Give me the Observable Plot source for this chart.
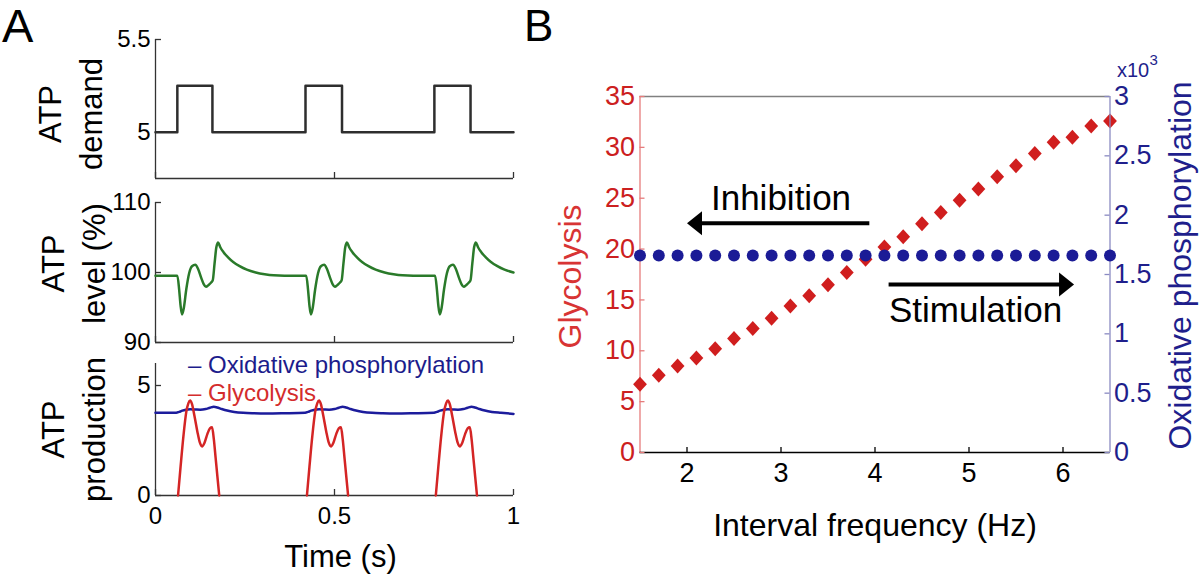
<!DOCTYPE html>
<html><head><meta charset="utf-8">
<script src="https://cdn.jsdelivr.net/npm/d3@7"></script>
<script src="https://cdn.jsdelivr.net/npm/@observablehq/plot@0.6"></script>
<style>
html,body{margin:0;padding:0;background:#fff;}
#root{position:relative;width:1200px;height:577px;overflow:hidden;background:#fff;font-family:"Liberation Sans",Arial,Helvetica,sans-serif;}
.letter{position:absolute;line-height:1;color:#000;font-family:"Liberation Sans",Arial,Helvetica,sans-serif;}
</style></head>
<body><div id="root"></div>
<script>
// ---------------- Panel A data ----------------
const timeTicks = [0, 0.5, 1];
const demandTicks = [5, 5.5];
const levelTicks = [90, 100, 110];
const productionTicks = [0, 5];

const demandTime  = [0, 0.061, 0.159, 0.419, 0.521, 0.779, 0.880, 1];
const demandValue = [5, 5.25, 5, 5.25, 5, 5.25, 5, 5];

const levelTime = [
  0, 0.061, 0.066, 0.070, 0.074, 0.079, 0.086, 0.094, 0.102, 0.111, 0.119, 0.128, 0.135, 0.141, 0.148, 0.156, 0.160, 0.165, 0.170, 0.175, 0.181, 0.190, 0.202, 0.217, 0.235, 0.255, 0.280, 0.305, 0.330, 0.360,
  0.421, 0.426, 0.430, 0.434, 0.439, 0.446, 0.454, 0.462, 0.471, 0.479, 0.488, 0.495, 0.501, 0.508, 0.516, 0.520, 0.525, 0.530, 0.535, 0.541, 0.550, 0.562, 0.577, 0.595, 0.615, 0.640, 0.665, 0.690, 0.720,
  0.781, 0.786, 0.790, 0.794, 0.799, 0.806, 0.814, 0.822, 0.831, 0.839, 0.848, 0.855, 0.861, 0.868, 0.876, 0.880, 0.885, 0.890, 0.895, 0.901, 0.910, 0.922, 0.937, 0.955, 0.975, 1.000];
const levelValue = [
  99.55, 99.55, 97.6, 95.3, 94.0, 94.9, 97.6, 99.9, 100.9, 101.1, 100.5, 99.2, 98.3, 97.95, 98.2, 98.6, 98.9, 101.3, 103.6, 104.3, 103.6, 102.9, 102.2, 101.5, 100.9, 100.4, 100.0, 99.75, 99.6, 99.55,
  99.55, 97.6, 95.3, 94.0, 94.9, 97.6, 99.9, 100.9, 101.1, 100.5, 99.2, 98.3, 97.95, 98.2, 98.6, 98.9, 101.3, 103.6, 104.3, 103.6, 102.9, 102.2, 101.5, 100.9, 100.4, 100.0, 99.75, 99.6, 99.55,
  99.55, 97.6, 95.3, 94.0, 94.9, 97.6, 99.9, 100.9, 101.1, 100.5, 99.2, 98.3, 97.95, 98.2, 98.6, 98.9, 101.3, 103.6, 104.3, 103.6, 102.9, 102.2, 101.5, 100.9, 100.4, 100.0];

const oxTime = [
  0, 0.058, 0.066, 0.075, 0.085, 0.097, 0.110, 0.125, 0.140, 0.152, 0.163, 0.172, 0.185, 0.200, 0.220, 0.245, 0.275, 0.310, 0.360,
  0.418, 0.426, 0.435, 0.445, 0.457, 0.470, 0.485, 0.500, 0.512, 0.523, 0.532, 0.545, 0.560, 0.580, 0.605, 0.635, 0.670, 0.720,
  0.778, 0.786, 0.795, 0.805, 0.817, 0.830, 0.845, 0.860, 0.872, 0.883, 0.892, 0.905, 0.920, 0.940, 0.965, 1.000];
const oxValue = [
  3.76, 3.76, 3.80, 3.86, 3.90, 3.92, 3.91, 3.90, 3.93, 3.99, 4.03, 4.00, 3.93, 3.86, 3.80, 3.76, 3.74, 3.73, 3.74,
  3.76, 3.80, 3.86, 3.90, 3.92, 3.91, 3.90, 3.93, 3.99, 4.03, 4.00, 3.93, 3.86, 3.80, 3.76, 3.74, 3.73, 3.74,
  3.76, 3.80, 3.86, 3.90, 3.92, 3.91, 3.90, 3.93, 3.99, 4.03, 4.00, 3.93, 3.86, 3.80, 3.76, 3.71];

const glyTime = [
  0.063, 0.070, 0.078, 0.086, 0.092, 0.097, 0.102, 0.109, 0.117, 0.124, 0.130, 0.137, 0.145, 0.152, 0.158, 0.163, 0.168, 0.173, 0.178,
  0.300,
  0.423, 0.430, 0.438, 0.446, 0.452, 0.457, 0.462, 0.469, 0.477, 0.484, 0.490, 0.497, 0.505, 0.512, 0.518, 0.523, 0.528, 0.533, 0.538,
  0.650,
  0.783, 0.790, 0.798, 0.806, 0.812, 0.817, 0.822, 0.829, 0.837, 0.844, 0.850, 0.857, 0.865, 0.872, 0.878, 0.883, 0.888, 0.893, 0.898];
const glyValue = [
  0, 1.3, 2.7, 3.8, 4.2, 4.32, 4.15, 3.6, 2.9, 2.4, 2.23, 2.4, 2.8, 3.05, 3.1, 2.55, 1.7, 0.85, 0,
  null,
  0, 1.3, 2.7, 3.8, 4.2, 4.32, 4.15, 3.6, 2.9, 2.4, 2.23, 2.4, 2.8, 3.05, 3.1, 2.55, 1.7, 0.85, 0,
  null,
  0, 1.3, 2.7, 3.8, 4.2, 4.32, 4.15, 3.6, 2.9, 2.4, 2.23, 2.4, 2.8, 3.05, 3.1, 2.55, 1.7, 0.85, 0];

const legendLabels = ["– Oxidative phosphorylation", "– Glycolysis"];

// ---------------- Panel B data ----------------
const freqHz = [1.5, 1.7, 1.9, 2.1, 2.3, 2.5, 2.7, 2.9, 3.1, 3.3, 3.5, 3.7, 3.9, 4.1, 4.3, 4.5, 4.7, 4.9, 5.1, 5.3, 5.5, 5.7, 5.9, 6.1, 6.3, 6.5];
const glycolysisRate = [6.7, 7.6, 8.5, 9.3, 10.2, 11.2, 12.2, 13.2, 14.4, 15.4, 16.5, 17.7, 19.0, 20.2, 21.2, 22.5, 23.6, 24.8, 25.9, 27.1, 28.2, 29.4, 30.5, 31.0, 32.1, 32.6];
const oxphosRate = [1660, 1660, 1660, 1660, 1660, 1660, 1660, 1660, 1660, 1660, 1660, 1660, 1660, 1660, 1660, 1660, 1660, 1660, 1660, 1660, 1660, 1660, 1660, 1660, 1660, 1660];
const freqTicks = [2, 3, 4, 5, 6];
const glyTicks = [0, 5, 10, 15, 20, 25, 30, 35];
const oxTicks = [0, 500, 1000, 1500, 2000, 2500, 3000];

// annotation arrows (data coordinates)
const arrowLabels = ["Inhibition", "Stimulation"];
const arrowLeft  = [2.0, 4.15];
const arrowRight = [3.945, 6.118];
const arrowY     = [22.54, 16.52];
const arrowLabelX = [3.0, 5.07];
const arrowLabelY = [24.9, 13.9];

// ---------------- helpers ----------------
const FONT = '"Liberation Sans", Arial, Helvetica, sans-serif';
const AX = "#333333";
const root = document.getElementById("root");
function put(el, left, top) {
  el.style.position = "absolute";
  el.style.left = left + "px";
  el.style.top = top + "px";
  root.appendChild(el);
}
const styleOf = fs => ({background: "transparent", fontFamily: FONT, fontSize: fs, overflow: "visible", color: "#000"});
const zip = (a, b, ka, kb) => a.map((v, i) => ({[ka]: v, [kb]: b[i]}));
const C = {lineAnchor: "middle", textAnchor: "middle"};

// ---------------- Panel A ----------------
const aW = 530, aML = 155, aMR = 17, aPW = aW - aML - aMR;
function panelA({top, height, mt, mb, domain, yTicks, title, tdx, tdy, marks, xAxis}) {
  const ph = height - mt - mb;
  const plot = Plot.plot({
    width: aW, height, marginLeft: aML, marginRight: aMR, marginTop: mt, marginBottom: mb,
    style: styleOf("24px"),
    x: xAxis ? {domain: [0, 1]} : {domain: [0, 1], axis: null},
    y: {domain},
    marks: [
      Plot.ruleX([0], {stroke: AX, strokeWidth: 1.3}),
      Plot.ruleY([domain[0]], {stroke: AX, strokeWidth: 1.3}),
      Plot.tickX(timeTicks, {x: d => d, stroke: AX, strokeWidth: 1.3, insetTop: ph - 6}),
      Plot.tickY(yTicks, {y: d => d, stroke: AX, strokeWidth: 1.3, insetRight: aPW - 6}),
      Plot.axisY({ticks: yTicks, tickSize: 0, tickPadding: 5, tickFormat: d => String(d), label: null}),
      Plot.text([title], {text: d => d, frameAnchor: "left", rotate: -90, dx: tdx, dy: tdy, fontSize: 31, lineHeight: 1.3, ...C}),
      ...marks
    ]
  });
  put(plot, 0, top);
}

panelA({
  top: 0, height: 190, mt: 39, mb: 12, domain: [4.75, 5.5], yTicks: demandTicks,
  title: "ATP\ndemand", tdx: -87, tdy: 5,
  marks: [
    Plot.line(zip(demandTime, demandValue, "t", "v"), {x: "t", y: "v", curve: "step-after", stroke: "#2e2e2e", strokeWidth: 2.5})
  ]
});

panelA({
  top: 190, height: 164, mt: 12, mb: 12, domain: [90, 110], yTicks: levelTicks,
  title: "ATP\nlevel (%)", tdx: -84, tdy: -9,
  marks: [
    Plot.line(zip(levelTime, levelValue, "t", "v"), {x: "t", y: "v", curve: "monotone-x", stroke: "#2a7a2a", strokeWidth: 2.5})
  ]
});

panelA({
  top: 340, height: 237, mt: 23, mb: 82, domain: [0, 6], yTicks: productionTicks,
  title: "ATP\nproduction", tdx: -84, tdy: 0, xAxis: true,
  marks: [
    Plot.axisX({ticks: timeTicks, tickSize: 0, tickPadding: 11, tickFormat: d => String(d), label: null}),
    Plot.text(["Time (s)"], {text: d => d, frameAnchor: "bottom", dx: 6, dy: 62, fontSize: 31, ...C}),
    Plot.line(zip(oxTime, oxValue, "t", "v"), {x: "t", y: "v", curve: "monotone-x", stroke: "#1c1c9c", strokeWidth: 2.5}),
    Plot.line(zip(glyTime, glyValue, "t", "v"), {x: "t", y: "v", curve: "monotone-x", stroke: "#d42525", strokeWidth: 2.5}),
    Plot.text([legendLabels[0]], {text: d => d, frameAnchor: "top-left", textAnchor: "start", lineAnchor: "middle", dx: 32.5, dy: 1.6, fill: "#1c1c8c", fontSize: 24}),
    Plot.text([legendLabels[1]], {text: d => d, frameAnchor: "top-left", textAnchor: "start", lineAnchor: "middle", dx: 32.5, dy: 30, fill: "#d42c2c", fontSize: 24})
  ]
});

// ---------------- Panel B ----------------
const bW = 670, bH = 577, bML = 109.5, bMR = 90.5, bMT = 96, bMB = 125;
const bPW = bW - bML - bMR, bPH = bH - bMT - bMB;
const RED = "#d01e1e", RED_AXIS = "#e67c7c", RED_TXT = "#cc2020";
const BLUE = "#1b1b96", BLUE_AXIS = "#8a8ac2", BLUE_TXT = "#1f1f8c";

const diamond = {draw(ctx, size) {
  const r = Math.sqrt(size / Math.PI);
  const w = r * 0.92;
  ctx.moveTo(0, -r); ctx.lineTo(w, 0); ctx.lineTo(0, r); ctx.lineTo(-w, 0); ctx.closePath();
}};
const headLeft = {draw(ctx) { ctx.moveTo(0, 0); ctx.lineTo(15, -12); ctx.lineTo(15, 12); ctx.closePath(); }};
const headRight = {draw(ctx) { ctx.moveTo(0, 0); ctx.lineTo(-15, -12); ctx.lineTo(-15, 12); ctx.closePath(); }};

const glyData = zip(freqHz, glycolysisRate, "f", "g");
const oxData = zip(freqHz, oxphosRate, "f", "o");
const arrows = arrowLabels.map((label, i) => ({label, left: arrowLeft[i], right: arrowRight[i], y: arrowY[i], lx: arrowLabelX[i], ly: arrowLabelY[i]}));

const plotB1 = Plot.plot({
  width: bW, height: bH, marginLeft: bML, marginRight: bMR, marginTop: bMT, marginBottom: bMB,
  style: styleOf("27px"),
  x: {domain: [1.5, 6.5]},
  y: {domain: [0, 35]},
  marks: [
    Plot.ruleY([35], {stroke: "#808080", strokeWidth: 1.3}),
    Plot.ruleX([1.5], {stroke: RED_AXIS, strokeWidth: 1.3}),
    Plot.ruleY([0], {stroke: "#000", strokeWidth: 1.3}),
    Plot.tickY(glyTicks, {y: d => d, stroke: RED_AXIS, strokeWidth: 1.3, insetRight: bPW - 5}),
    Plot.tickX(freqTicks, {x: d => d, stroke: "#000", strokeWidth: 1.3, insetTop: bPH - 5}),
    Plot.axisY({ticks: glyTicks, tickSize: 0, tickPadding: 5, color: RED_TXT, tickFormat: d => String(d), label: null}),
    Plot.axisX({ticks: freqTicks, tickSize: 0, tickPadding: 10, tickFormat: d => String(d), label: null}),
    Plot.text(["Glycolysis"], {text: d => d, frameAnchor: "left", rotate: -90, dx: -69.5, dy: 2, fill: "#d83434", fontSize: 32, ...C}),
    Plot.text(["Interval frequency (Hz)"], {text: d => d, frameAnchor: "bottom", dy: 73, fontSize: 32, ...C}),
    Plot.dot(glyData, {x: "f", y: "g", r: 7.5, symbol: diamond, fill: RED}),
    Plot.ruleY(arrows.slice(0, 1), {x1: "left", x2: "right", y: "y", stroke: "#000", strokeWidth: 4, insetLeft: 12}),
    Plot.ruleY(arrows.slice(1, 2), {x1: "left", x2: "right", y: "y", stroke: "#000", strokeWidth: 4, insetRight: 12}),
    Plot.dot(arrows.slice(0, 1), {x: "left", y: "y", r: 5, symbol: headLeft, fill: "#000"}),
    Plot.dot(arrows.slice(1, 2), {x: "right", y: "y", r: 5, symbol: headRight, fill: "#000"}),
    Plot.text(arrows, {x: "lx", y: "ly", text: "label", fontSize: 35, fill: "#000", ...C})
  ]
});
put(plotB1, 530, 0);

const plotB2 = Plot.plot({
  width: bW, height: bH, marginLeft: bML, marginRight: bMR, marginTop: bMT, marginBottom: bMB,
  style: styleOf("27px"),
  x: {domain: [1.5, 6.5], axis: null},
  y: {domain: [0, 3000]},
  marks: [
    Plot.ruleX([6.5], {stroke: BLUE_AXIS, strokeWidth: 1.3}),
    Plot.tickY(oxTicks, {y: d => d, stroke: BLUE_AXIS, strokeWidth: 1.3, insetLeft: bPW - 5}),
    Plot.axisY({anchor: "right", ticks: oxTicks, tickSize: 0, tickPadding: 4, color: BLUE_TXT, tickFormat: d => String(d / 1000), label: null}),
    Plot.text(["Oxidative phosphorylation"], {text: d => d, frameAnchor: "right", rotate: -90, dx: 71, dy: -9, fill: BLUE_TXT, fontSize: 32, ...C}),
    Plot.text(["x10"], {text: d => d, frameAnchor: "top-right", textAnchor: "start", lineAnchor: "middle", dx: 7, dy: -26, fill: BLUE_TXT, fontSize: 20}),
    Plot.text(["3"], {text: d => d, frameAnchor: "top-right", textAnchor: "start", lineAnchor: "middle", dx: 39.5, dy: -36, fill: BLUE_TXT, fontSize: 15}),
    Plot.dot(oxData, {x: "f", y: "o", r: 6, fill: BLUE})
  ]
});
put(plotB2, 530, 0);

// panel letters
const la = document.createElement("div"); la.className = "letter"; la.textContent = "A"; la.style.fontSize = "47px"; put(la, 2, 2);
const lb = document.createElement("div"); lb.className = "letter"; lb.textContent = "B"; lb.style.fontSize = "44px"; put(lb, 524, 4);
</script>
</body></html>
